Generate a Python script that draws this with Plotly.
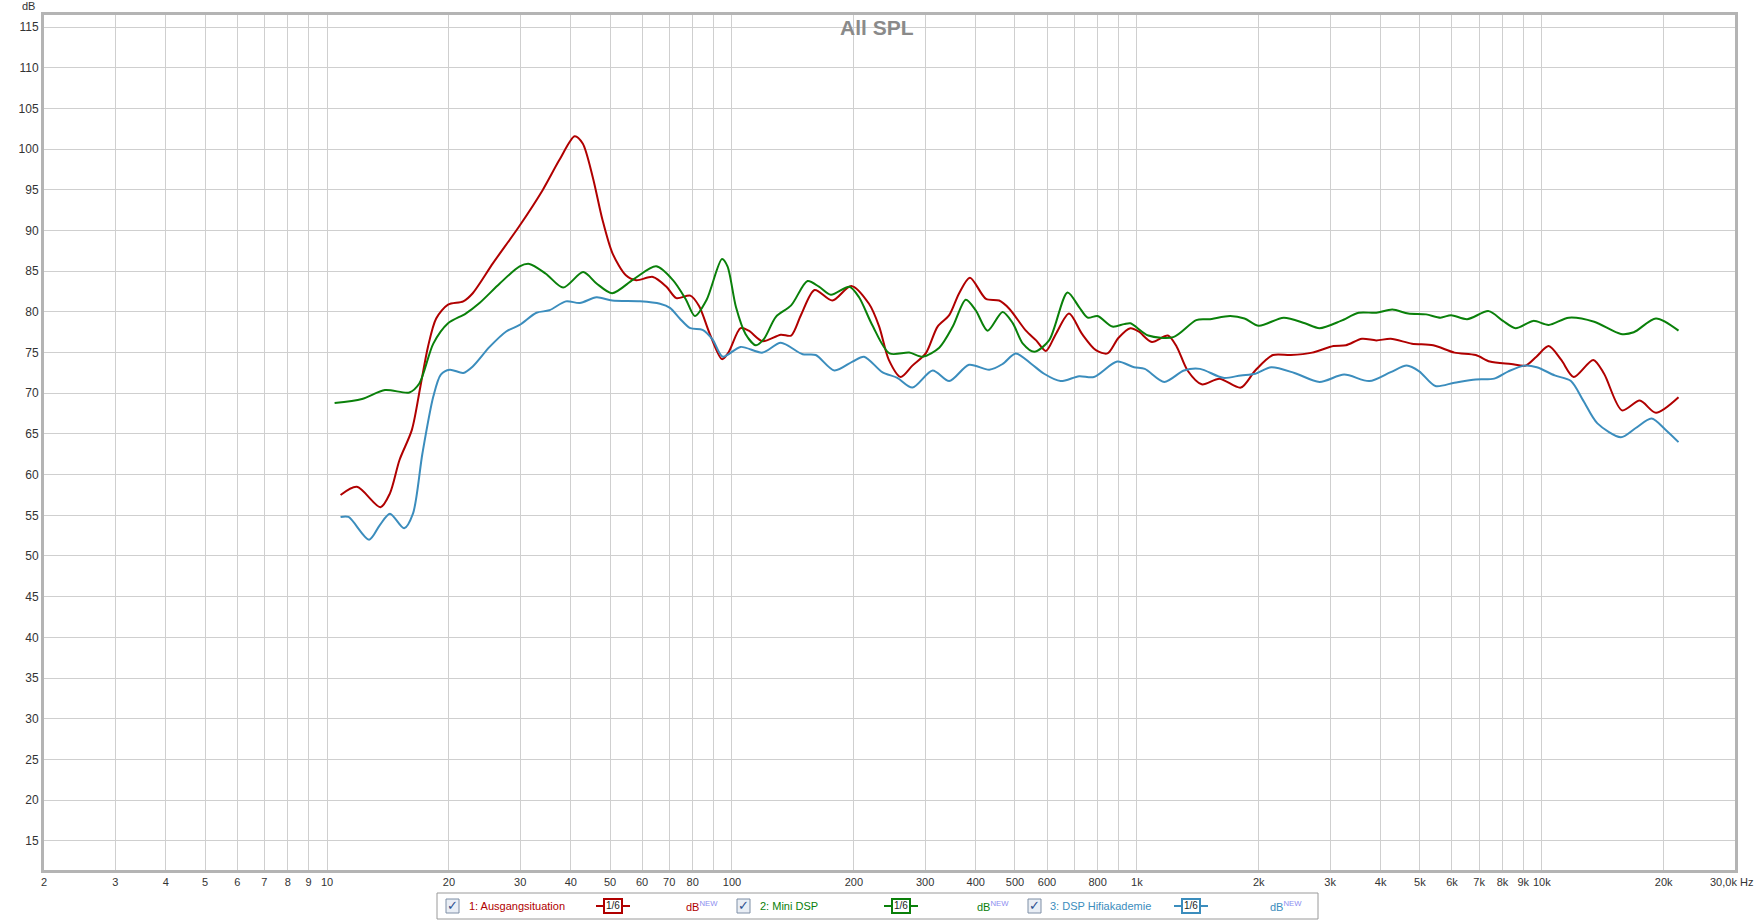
import plotly.graph_objects as go

# frequency responses (Hz, dB)
red_freq = [10.8, 11.85, 13.55, 14.3, 15.1, 16.2, 17.0, 17.75, 18.6, 19.9, 21.7, 22.9, 25.7, 29.8, 34.1,
            37.5, 40.9, 42.8, 45.3, 47.9, 50.7, 54.7, 58.0, 63.8, 68.9, 72.9, 78.9, 83.0, 88.0, 94.5, 98,
            105, 110, 119, 132, 140, 148, 160, 177, 197, 218, 231, 244, 261, 279, 301, 322, 344, 364, 387,
            424, 457, 484, 532, 564, 596, 631, 680, 732, 792, 846, 900, 964, 1010, 1089, 1193, 1255, 1334,
            1446, 1600, 1806, 1961, 2168, 2399, 2710, 3059, 3283, 3596, 3903, 4235, 4779, 5393, 6087, 6870,
            7441, 8400, 9120, 9700, 10400, 11170, 11990, 13400, 14250, 15780, 17460, 19140, 21760]
red_db = [57.5, 58.5, 56.0, 57.7, 61.8, 65.5, 70.8, 75.7, 79.2, 80.9, 81.3, 82.3, 86.0, 90.5, 95.0,
          98.7, 101.6, 100.7, 96.6, 91.3, 87.2, 84.5, 83.9, 84.3, 83.1, 81.7, 82.0, 80.7, 77.4, 74.2, 75.0,
          78.0, 77.7, 76.4, 77.2, 77.1, 79.6, 82.7, 81.4, 83.2, 81.0, 78.2, 74.1, 72.0, 73.4, 74.9, 78.2,
          79.6, 82.3, 84.2, 81.6, 81.4, 80.4, 77.7, 76.5, 75.2, 77.3, 79.8, 77.3, 75.3, 74.9, 76.8, 78.0,
          77.6, 76.3, 77.1, 75.7, 72.8, 71.1, 71.8, 70.7, 72.8, 74.7, 74.7, 75.0, 75.8, 75.9, 76.7, 76.5,
          76.7, 76.1, 75.9, 75.0, 74.7, 73.9, 73.6, 73.4, 74.5, 75.8, 74.1, 72.0, 74.1, 72.4, 67.9, 69.1,
          67.6, 69.5]

green_freq = [10.44, 12.2, 13.9, 15.97, 16.9, 18.3, 19.9, 22.0, 23.8, 26.7, 29.9, 31.6, 34.7, 38.3, 42.9,
              46.3, 50.6, 57.1, 65.0, 71.5, 77.0, 81.0, 86.6, 94.5, 97.5, 102.3, 108, 114.6, 120, 128.4,
              140, 153.7, 164, 175.5, 195, 206, 222, 245, 274, 296, 325, 351, 378, 400, 428, 466, 494,
              523, 558, 607, 674, 720, 756, 800, 870, 930, 964, 1067, 1230, 1402, 1506, 1700, 1844, 2000,
              2305, 2600, 2825, 3190, 3530, 3903, 4275, 4680, 5180, 5620, 5970, 6540, 7390, 8020, 8610,
              9530, 10400, 11660, 13470, 15680, 16870, 19140, 21760]
green_db = [68.8, 69.3, 70.4, 70.1, 71.2, 76.1, 78.6, 79.8, 81.1, 83.5, 85.6, 85.9, 84.7, 83.0, 84.9,
            83.5, 82.3, 84.0, 85.6, 83.9, 81.5, 79.5, 81.5, 86.5, 85.6, 80.6, 77.3, 75.9, 76.7, 79.4,
            80.8, 83.8, 83.1, 82.1, 83.1, 81.8, 78.4, 74.9, 75.0, 74.5, 75.6, 78.2, 81.5, 80.2, 77.7,
            80.0, 78.6, 76.1, 75.1, 76.5, 82.4, 80.6, 79.3, 79.5, 78.2, 78.5, 78.6, 77.1, 76.9, 79.0,
            79.1, 79.5, 79.2, 78.3, 79.3, 78.6, 78.0, 78.9, 79.9, 79.9, 80.3, 79.8, 79.7, 79.3, 79.6,
            79.1, 80.1, 78.9, 78.0, 78.9, 78.4, 79.3, 78.8, 77.3, 77.5, 79.2, 77.7]

blue_freq = [10.8, 11.3, 12.7, 13.5, 14.3, 15.5, 16.3, 17.2, 18.3, 19.1, 20.1, 21.7, 22.9, 25.2, 27.7,
             29.9, 32.9, 35.4, 38.9, 42.1, 46.3, 50.6, 59.3, 66.4, 70.3, 74.3, 78.9, 84.6, 89.6, 94.9,
             105, 119, 132, 149.5, 161, 179, 198.5, 212, 235, 256, 279, 313, 344, 385, 432, 466, 502,
             549, 590, 648, 720, 783, 894, 984, 1046, 1169, 1307, 1432, 1633, 1806, 1961, 2147, 2450,
             2825, 3250, 3750, 4235, 4640, 4980, 5460, 6087, 6870, 7630, 8270, 9060, 9720, 10760, 11800,
             12660, 13720, 15680, 17030, 18660, 20240, 21760]
blue_db = [54.8, 54.8, 52.0, 53.8, 55.2, 53.4, 55.2, 62.6, 69.6, 72.3, 72.9, 72.5, 73.3, 75.7, 77.6,
           78.4, 79.9, 80.2, 81.3, 81.1, 81.8, 81.4, 81.3, 81.0, 80.5, 79.2, 78.0, 77.8, 76.6, 74.5,
           75.7, 75.0, 76.2, 74.8, 74.7, 72.8, 73.9, 74.5, 72.6, 71.9, 70.7, 72.8, 71.5, 73.5, 72.9,
           73.6, 74.9, 73.6, 72.4, 71.5, 72.1, 72.0, 73.9, 73.2, 73.0, 71.4, 72.8, 73.0, 71.9, 72.2,
           72.4, 73.2, 72.5, 71.4, 72.3, 71.5, 72.6, 73.4, 72.7, 70.9, 71.3, 71.7, 71.8, 72.7, 73.4,
           73.2, 72.2, 71.5, 69.1, 66.3, 64.6, 65.7, 66.9, 65.5, 64.0]

names = ['1: Ausgangsituation', '2: Mini DSP', '3: DSP Hifiakademie']
colors = ['#b00000', '#0a800a', '#3b8dbd']

# x grid / tick labels
grid_vals = []
for dec in [1, 10, 100, 1000, 10000]:
    for m in range(1, 10):
        v = m * dec
        if 2 <= v <= 30000:
            grid_vals.append(v)
hidden = {90, 700, 900}


def label(v):
    if v in hidden:
        return ''
    if v == 30000:
        return '30,0k Hz'
    if v >= 1000:
        return f'{v // 1000}k'
    return str(v)


tick_text = [label(v) for v in grid_vals]
y_ticks = list(range(15, 120, 5))

W, H = 1756, 921
L, R, T, B = 44, 1735, 15, 870


def px(x):
    return (x - L) / (R - L)


def py(y):
    return (B - y) / (B - T)


def note(text, x, y, size, color, xanchor='center'):
    fig.add_annotation(text=text, x=px(x), y=py(y), xref='paper', yref='paper',
                       xanchor=xanchor, yanchor='middle', showarrow=False,
                       font=dict(size=size, color=color))


fig = go.Figure()
for f, d, n, c in zip([red_freq, green_freq, blue_freq], [red_db, green_db, blue_db], names, colors):
    fig.add_trace(go.Scatter(x=f, y=d, mode='lines', name=n,
                             line=dict(color=c, width=2, shape='spline', smoothing=0.8)))

fig.update_layout(
    width=W, height=H,
    margin=dict(l=L, r=W - R, t=T, b=H - B),
    paper_bgcolor='white', plot_bgcolor='white',
    showlegend=False,
    font=dict(family='Liberation Sans, Arial', size=12, color='#333333'),
    xaxis=dict(type='log', range=[0.30100, 4.47716],
               tickvals=grid_vals, ticktext=tick_text, ticks='',
               showgrid=True, gridcolor='#cfcfcf', gridwidth=1,
               showline=True, linecolor='#b4b4b4', linewidth=3, mirror=True,
               zeroline=False, tickfont=dict(size=11, color='#333333')),
    yaxis=dict(range=[11.4, 116.5], tickvals=y_ticks, ticks='',
               showgrid=True, gridcolor='#cfcfcf', gridwidth=1,
               showline=True, linecolor='#b4b4b4', linewidth=3, mirror=True,
               zeroline=False, tickfont=dict(size=12, color='#333333')),
)

# title and dB unit
note('<b>All SPL</b>', 877, 27, 21, '#8a8a8a')
note('dB', 37, 6, 11, '#333333', 'right')

# legend bar drawn by hand
shapes = []
shapes.append(dict(type='rect', xref='paper', yref='paper', x0=px(437), x1=px(1318),
                   y0=py(893), y1=py(919), line=dict(color='#9a9a9a', width=1),
                   fillcolor='white', layer='above'))
cy = 906
items = [(446, 467, 600, 684), (737, 758, 888, 975), (1028, 1048, 1178, 1268)]
for (cbx, tx, sx, dx), n, c in zip(items, names, colors):
    shapes.append(dict(type='rect', xref='paper', yref='paper', x0=px(cbx), x1=px(cbx + 13),
                       y0=py(cy + 7), y1=py(cy - 7), line=dict(color='#7f8fa6', width=1),
                       fillcolor='#e9eef5', layer='above'))
    note('✓', cbx + 6.5, cy, 13, '#2b4f8f')
    note(n, tx, cy, 11, c, 'left')
    shapes.append(dict(type='line', xref='paper', yref='paper', x0=px(sx - 4), x1=px(sx + 30),
                       y0=py(cy), y1=py(cy), line=dict(color=c, width=2), layer='above'))
    shapes.append(dict(type='rect', xref='paper', yref='paper', x0=px(sx + 4), x1=px(sx + 22),
                       y0=py(cy + 7), y1=py(cy - 7), line=dict(color=c, width=2),
                       fillcolor='white', layer='above'))
    note('1/6', sx + 13, cy, 10, '#222222')
    note('dB<sup><span style="color:#8c8cf0">NEW</span></sup>', dx, cy, 11, c, 'left')

# 30k edge label
note('30,0k Hz', 1731, 882, 11, '#333333')

fig.update_layout(shapes=shapes)

fig.write_html("out.html", config={'displayModeBar': False},
               post_script="document.body.style.margin='0';")
